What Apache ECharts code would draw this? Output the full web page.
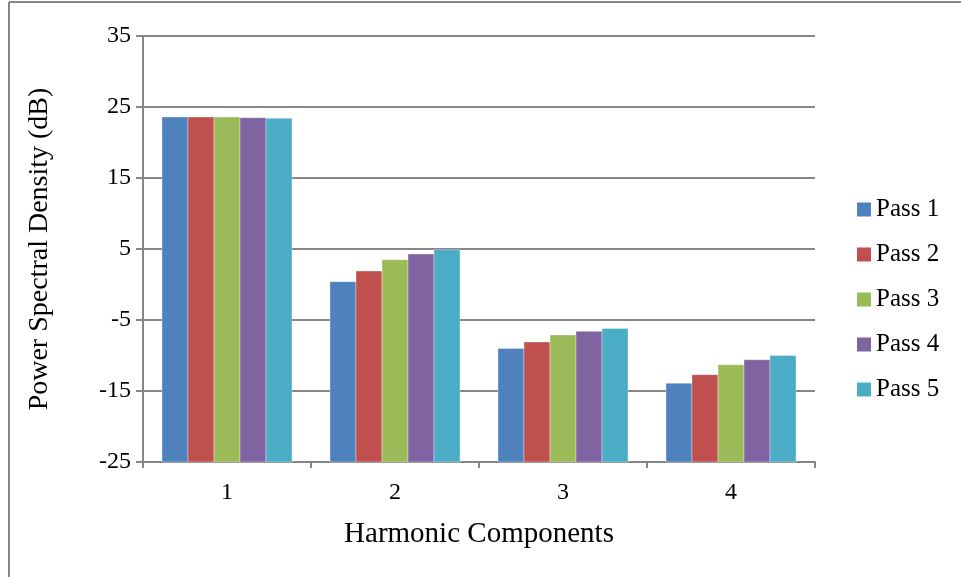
<!DOCTYPE html>
<html>
<head>
<meta charset="utf-8">
<style>
  html, body { margin: 0; padding: 0; background: #fff; }
  #chart { width: 961px; height: 577px; }
</style>
<script src="https://cdn.jsdelivr.net/npm/echarts@6/dist/echarts.min.js"></script>
</head>
<body>
<div id="chart"></div>
<script>
// Harmonic components on the category axis
const categories = ['1', '2', '3', '4'];

// Power spectral density (dB) per pass, one value per harmonic
const pass1 = [23.6, 0.4, -9.0, -13.9];
const pass2 = [23.6, 1.9, -8.1, -12.7];
const pass3 = [23.6, 3.5, -7.1, -11.3];
const pass4 = [23.5, 4.3, -6.6, -10.6];
const pass5 = [23.4, 4.9, -6.2, -10.0];

const seriesNames = ['Pass 1', 'Pass 2', 'Pass 3', 'Pass 4', 'Pass 5'];
const seriesColors = ['#4f81bd', '#c0504d', '#9bbb59', '#8064a2', '#4bacc6'];

// Value axis range; bars rise from the bottom of the axis
const yMin = -25;
const yMax = 35;
const yStep = 10;

const font = 'Liberation Serif, Times New Roman, serif';
const gray = '#868686';
const categoryGap = 0.226;

const allValues = [pass1, pass2, pass3, pass4, pass5];
const nSeries = allValues.length;

// Clustered bar drawn from the axis minimum up to the value
function makeRenderItem(seriesIdx) {
  return function (params, api) {
    const idx = api.value(0);
    const val = api.value(1);
    const topPt = api.coord([idx, val]);
    const basePt = api.coord([idx, yMin]);
    const catW = api.size([1, 0])[0];
    const groupW = catW * (1 - categoryGap);
    const barW = groupW / nSeries;
    const x = topPt[0] - groupW / 2 + seriesIdx * barW;
    return {
      type: 'rect',
      shape: { x: x, y: topPt[1], width: barW, height: basePt[1] - topPt[1] },
      style: {
        fill: seriesColors[seriesIdx],
        stroke: 'rgba(255,255,255,0.35)',
        lineWidth: 1
      }
    };
  };
}

const chart = echarts.init(document.getElementById('chart'), null, { renderer: 'canvas' });

chart.setOption({
  animation: false,
  backgroundColor: '#ffffff',
  textStyle: { fontFamily: font, color: '#000' },
  grid: { left: 143, top: 36, width: 672, height: 426, containLabel: false },
  legend: {
    orient: 'vertical',
    left: 852,
    top: 192,
    itemWidth: 14,
    itemHeight: 14,
    itemGap: 20,
    icon: 'rect',
    textStyle: { fontFamily: font, fontSize: 25, color: '#000' },
    data: seriesNames
  },
  xAxis: {
    type: 'category',
    data: categories,
    name: 'Harmonic Components',
    nameLocation: 'middle',
    nameGap: 58,
    nameTextStyle: { fontFamily: font, fontSize: 29, color: '#000' },
    axisLine: { onZero: false, lineStyle: { color: gray, width: 2 } },
    axisTick: { show: true, length: 6, lineStyle: { color: gray, width: 2 } },
    axisLabel: { fontFamily: font, fontSize: 24, color: '#000', margin: 19 },
    splitLine: { show: false }
  },
  yAxis: {
    type: 'value',
    min: yMin,
    max: yMax,
    interval: yStep,
    name: 'Power Spectral Density (dB)',
    nameLocation: 'middle',
    nameGap: 89,
    nameTextStyle: { fontFamily: font, fontSize: 28, color: '#000' },
    axisLine: { show: true, lineStyle: { color: gray, width: 2 } },
    axisTick: { show: true, length: 7, lineStyle: { color: gray, width: 2 } },
    axisLabel: { fontFamily: font, fontSize: 24, color: '#000', margin: 12 },
    splitLine: { show: true, lineStyle: { color: gray, width: 2 } }
  },
  series: seriesNames.map((name, i) => ({
    name: name,
    type: 'custom',
    renderItem: makeRenderItem(i),
    encode: { x: 0, y: 1 },
    itemStyle: { color: seriesColors[i] },
    data: allValues[i].map((v, k) => [k, v])
  })),
  graphic: [
    { type: 'line', shape: { x1: 9, y1: 2, x2: 961, y2: 2 }, style: { stroke: gray, lineWidth: 2 } },
    { type: 'line', shape: { x1: 9, y1: 2, x2: 9, y2: 577 }, style: { stroke: gray, lineWidth: 2 } }
  ]
});
</script>
</body>
</html>
